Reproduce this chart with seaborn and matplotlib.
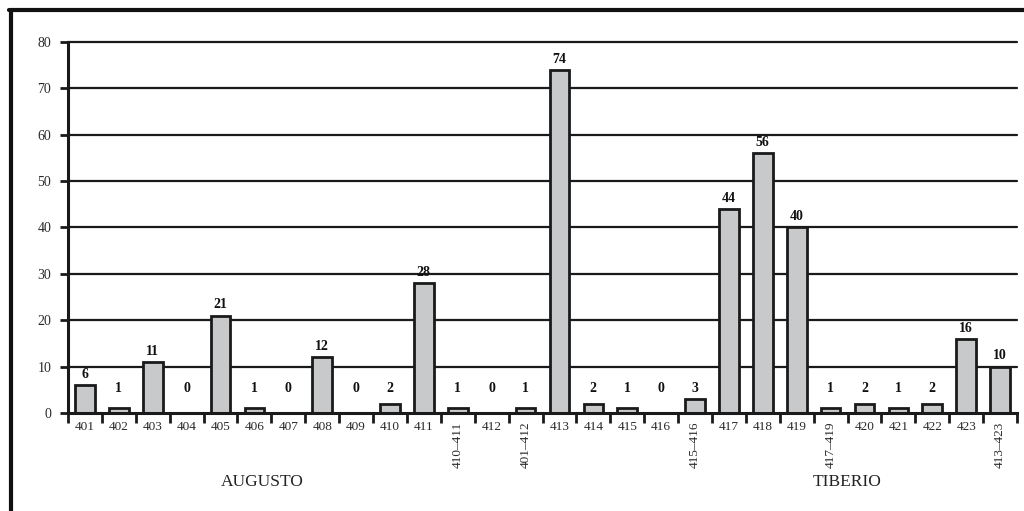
import matplotlib
matplotlib.use("Agg")
import matplotlib.pyplot as plt
from matplotlib.lines import Line2D
from matplotlib.ticker import FixedLocator
import seaborn as sns
import pandas as pd

categories = ["401", "402", "403", "404", "405", "406", "407", "408", "409", "410",
              "411", "410–411", "412", "401–412", "413", "414", "415", "416", "415–416",
              "417", "418", "419", "417–419", "420", "421", "422", "423", "413–423"]
values = [6, 1, 11, 0, 21, 1, 0, 12, 0, 2,
          28, 1, 0, 1, 74, 2, 1, 0, 3,
          44, 56, 40, 1, 2, 1, 2, 16, 10]
y_ticks = [0, 10, 20, 30, 40, 50, 60, 70, 80]
group_labels = ["AUGUSTO", "TIBERIO"]

sns.set_theme(style="white")
plt.rcParams["font.family"] = ["Liberation Serif", "DejaVu Serif"]

df = pd.DataFrame({"cat": categories, "val": values})

fig = plt.figure(figsize=(10.24, 5.11), dpi=100)
ax = fig.add_axes([68 / 1024, (511 - 413) / 511, (1017 - 68) / 1024, (413 - 42) / 511])

for yt in y_ticks[1:]:
    ax.axhline(yt, color="#1a1a1a", linewidth=1.6, zorder=0, clip_on=False)

sns.barplot(data=df, x="cat", y="val", order=categories, color="#c8c9cb",
            edgecolor="#1a1a1a", linewidth=2.0, width=0.58, saturation=1,
            ax=ax, zorder=2)

ax.set_ylim(0, 80)
ax.set_xlim(-0.5, len(categories) - 0.5)
ax.set_xlabel("")
ax.set_ylabel("")

# y axis
ax.set_yticks(y_ticks)
ax.set_yticklabels([str(t) for t in y_ticks], fontsize=10, color="#2a2a2a")
ax.tick_params(axis="y", direction="out", length=6, width=2, color="#1a1a1a", left=True, pad=6)

# x axis: labels at centers, tick marks at boundaries
ax.set_xticks(range(len(categories)))
ax.set_xticklabels(categories, fontsize=9.5, color="#2a2a2a")
for lbl, txt in zip(ax.get_xticklabels(), categories):
    if "–" in txt:
        lbl.set_rotation(90)
        lbl.set_va("top")
ax.tick_params(axis="x", which="major", length=0, pad=6)
ax.xaxis.set_minor_locator(FixedLocator([i - 0.5 for i in range(len(categories) + 1)]))
ax.tick_params(axis="x", which="minor", direction="out", length=7, width=2,
               color="#1a1a1a", bottom=True)

for side in ["top", "right"]:
    ax.spines[side].set_visible(False)
ax.spines["left"].set_color("#1a1a1a")
ax.spines["left"].set_linewidth(2.2)
ax.spines["bottom"].set_color("#1a1a1a")
ax.spines["bottom"].set_linewidth(2.2)

# value labels
for i, v in enumerate(values):
    ax.annotate(str(v), (i, max(v, 3.0)), xytext=(0, 3), textcoords="offset points",
                ha="center", va="bottom", fontsize=10, fontweight="bold", color="#111111")

# group labels
fig.text(262 / 1024, (511 - 482) / 511, group_labels[0], ha="center", va="center",
         fontsize=12.5, color="#222222")
fig.text(847 / 1024, (511 - 482) / 511, group_labels[1], ha="center", va="center",
         fontsize=12.5, color="#222222")

# frame (left and top)
fig.add_artist(Line2D([10.5 / 1024, 10.5 / 1024], [0, (511 - 10.5) / 511],
                      transform=fig.transFigure, color="#111111", linewidth=3))
fig.add_artist(Line2D([9 / 1024, 1], [(511 - 10.5) / 511, (511 - 10.5) / 511],
                      transform=fig.transFigure, color="#111111", linewidth=3))

fig.savefig("out.png", dpi=100)
